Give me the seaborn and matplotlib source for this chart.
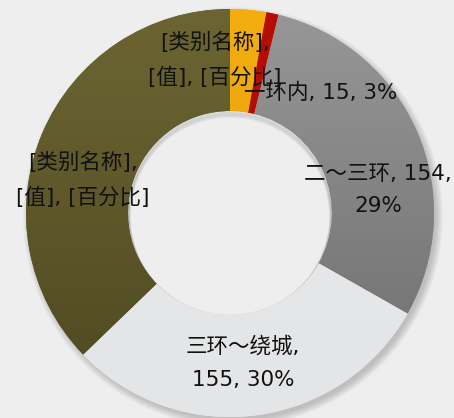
import numpy as np
import matplotlib
matplotlib.use("Agg")
import matplotlib.pyplot as plt
import seaborn as sns
from matplotlib.patches import Circle, Wedge

# ---- data ----
categories = ["一环内", "[类别名称]", "二～三环", "三环～绕城", "[类别名称]"]
values = [15, 5, 154, 155, 195]
label_texts = [
    "一环内, 15, 3%",
    "[类别名称],\n[值], [百分比]",
    "二～三环, 154,\n29%",
    "三环～绕城,\n155, 30%",
    "[类别名称],\n[值], [百分比]",
]
top_colors = ["#F4AE10", "#B80E02", "#979797", "#E8E9EA", "#6C6532"]
bottom_colors = ["#D99806", "#A00A00", "#6C6C6C", "#E4E5E6", "#4E4821"]

sns.set_style("white")
plt.rcParams["font.family"] = ["DejaVu Sans", "Noto Sans CJK SC"]

W, H = 454, 418
fig = plt.figure(figsize=(W / 100, H / 100), dpi=100)
fig.patch.set_facecolor("#EEEEEF")
ax = fig.add_axes([0, 0, 1, 1])

cx, cy, R = 230, H - 213, 204
BG = "#EEEEEF"

# soft drop shadow (ring only)
for i in range(10):
    ax.add_patch(Wedge((cx + 3, cy - 4), R + 6 - i * 0.8, 0, 360,
                       width=R * 0.45, color="black", alpha=0.018, lw=0, zorder=1))

wedges, _ = ax.pie(values, startangle=90, counterclock=False, center=(cx, cy),
                   radius=R, colors=top_colors,
                   wedgeprops=dict(width=R * 0.5, linewidth=0),
                   frame=True)
ax.set_xlim(0, W)
ax.set_ylim(0, H)
ax.set_aspect("equal")
ax.axis("off")

# hole filled with background
ax.add_patch(Circle((cx, cy), R * 0.5, color=BG, lw=0, zorder=1.5))

# vertical gradients clipped to the wedges
for w, c1, c2 in zip(wedges, top_colors, bottom_colors):
    w.set_zorder(2)
    a = np.array(matplotlib.colors.to_rgb(c1))
    b = np.array(matplotlib.colors.to_rgb(c2))
    t = np.linspace(0, 1, 256)[:, None]
    grad = (a[None, :] * (1 - t) + b[None, :] * t)[:, None, :]
    im = ax.imshow(grad, extent=[cx - R, cx + R, cy - R, cy + R],
                   aspect="auto", origin="upper", zorder=3)
    im.set_clip_path(w)
ax.set_xlim(0, W)
ax.set_ylim(0, H)

# inner shadow at top of the hole
hole = Circle((cx, cy), R * 0.5, transform=ax.transData)
for i in range(6):
    c = Circle((cx, cy - 1 - i * 0.6), R * 0.5 - i * 0.3, facecolor="none",
               edgecolor="black", alpha=0.035, lw=2, zorder=4)
    ax.add_patch(c)
    c.set_clip_path(hole)

# labels (image coordinates -> data coordinates)
label_pos = [(321, 93), (215, 60), (378, 190), (243, 363), (83, 180)]
for txt, (x, y) in zip(label_texts, label_pos):
    ax.text(x, H - y, txt, ha="center", va="center", fontsize=15.5,
            color="#111111", linespacing=1.8, zorder=6)

fig.savefig("out.png", dpi=100, facecolor=fig.get_facecolor())
